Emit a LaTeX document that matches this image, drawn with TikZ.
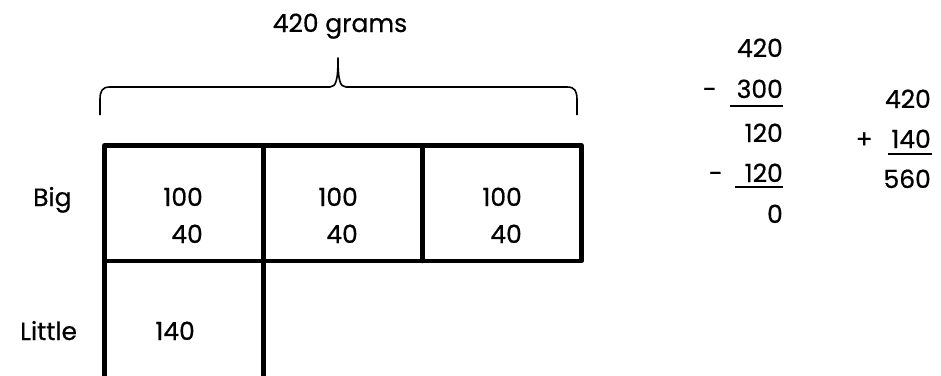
\documentclass[tikz,border=0pt]{standalone}
\usepackage{fontspec}
\setmainfont{Poppins}[FakeBold=0.6]
\begin{document}
\begin{tikzpicture}[x=1pt,y=-1pt,
  boxline/.style={line width=4.5pt, line join=round, line cap=round},
  bracel/.style={line width=1.6pt, line join=round},
  txt/.style={inner sep=0pt, font=\fontsize{25}{25}\selectfont},
  rule/.style={line width=1.6pt}]
\useasboundingbox (0,0) rectangle (941,375);
% bar model
\coordinate (tl) at (104.5,145.5);
\coordinate (tr) at (581.5,145.5);
\coordinate (ml) at (104.5,261);
\coordinate (mr) at (581.5,261);
\coordinate (d1t) at (263.5,145.5);
\coordinate (d1m) at (263.5,261);
\coordinate (d2t) at (422.5,145.5);
\coordinate (d2m) at (422.5,261);
\coordinate (lb) at (104.5,378);
\coordinate (rb) at (263.5,378);
\draw[boxline] (tl) -- (tr) -- (mr) -- (ml) -- cycle;
\draw[boxline] (d1t) -- (d1m);
\draw[boxline] (d2t) -- (d2m);
\draw[boxline] (ml) -- (lb);
\draw[boxline] (d1m) -- (rb);
% brace
\draw[bracel] (100,115) -- (100,100) .. controls (100,91) and (102,87) .. (110,87)
  -- (330,87) .. controls (336,87) and (338,80) .. (338,58)
  .. controls (338,80) and (340,87) .. (346,87)
  -- (567,87) .. controls (575,87) and (577,91) .. (577,100) -- (577,115);
\node[txt, anchor=base] (title) at (340,32) {420 grams};
% labels
\node[txt, anchor=base west] (big) at (33,206) {Big};
\node[txt, anchor=base west] (little) at (20,340) {Little};
% cells
\node[txt, anchor=base east] (a1) at (203,206) {100};
\node[txt, anchor=base east] (b1) at (203,243) {40};
\node[txt, anchor=base east] (a2) at (358,206) {100};
\node[txt, anchor=base east] (b2) at (358,243) {40};
\node[txt, anchor=base east] (a3) at (522,206) {100};
\node[txt, anchor=base east] (b3) at (522,243) {40};
\node[txt, anchor=base east] (c1) at (195,340) {140};
% subtraction
\node[txt, anchor=base east] (s1) at (783,57) {420};
\node[txt, anchor=base east] (s2) at (783,98) {300};
\node[txt, anchor=base east] (m1) at (717,98) {-};
\node[txt, anchor=base east] (s3) at (783,142) {120};
\node[txt, anchor=base east] (s4) at (783,182) {120};
\node[txt, anchor=base east] (m2) at (723,182) {-};
\node[txt, anchor=base east] (s5) at (783,223) {0};
\draw[rule] (730,106) -- (783,106);
\draw[rule] (735,187) -- (783,187);
% addition
\node[txt, anchor=base east] (p1) at (931,108) {420};
\node[txt, anchor=base east] (p2) at (931,148) {140};
\node[txt, anchor=base east] (pl) at (873,148) {+};
\node[txt, anchor=base east] (p3) at (931,188) {560};
\draw[rule] (888,154) -- (932,154);
\end{tikzpicture}
\end{document}
